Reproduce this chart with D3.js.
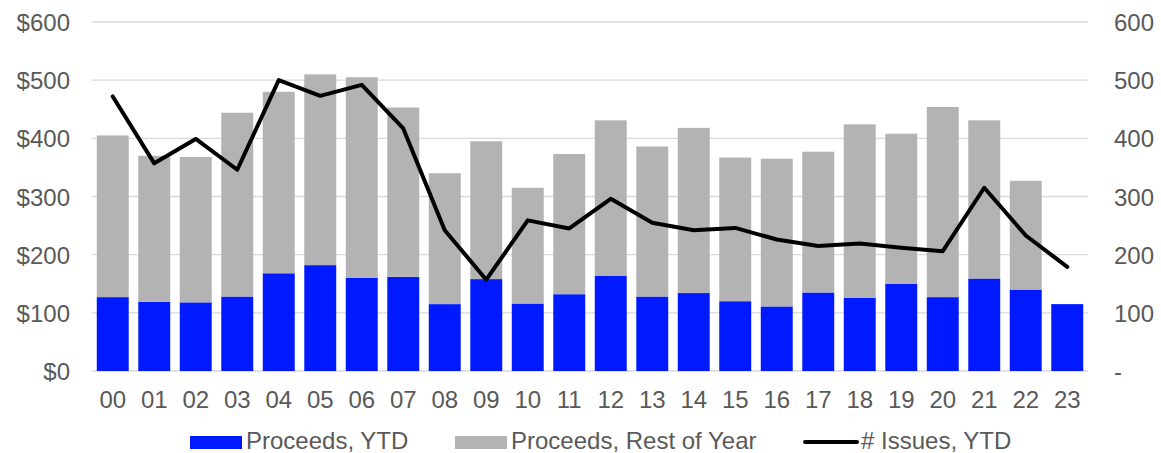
<!DOCTYPE html>
<html>
<head>
<meta charset="utf-8">
<script src="https://cdn.jsdelivr.net/npm/d3@7"></script>
<style>
  body { margin: 0; background: #fff; }
  .axes-font text { font-family: "Liberation Sans", Arial, sans-serif; font-size: 24px; fill: #595959; }
  .legend-font { font-family: "Liberation Sans", Arial, sans-serif; font-size: 24px; fill: #595959; }
</style>
</head>
<body>
<div id="vis1"></div>
<script>
const FRAME_HEIGHT = 453;
const FRAME_WIDTH = 1161;
const MARGINS = {left: 92, right: 73, top: 22, bottom: 82};

const VIS_HEIGHT = FRAME_HEIGHT - MARGINS.top - MARGINS.bottom;
const VIS_WIDTH = FRAME_WIDTH - MARGINS.left - MARGINS.right;

// data
const years = ["00","01","02","03","04","05","06","07","08","09","10","11",
               "12","13","14","15","16","17","18","19","20","21","22","23"];
const proceedsYTD = [127,119,118,128,168,182,160,162,115,158,116,132,
                     164,128,134,120,111,135,126,150,127,159,140,115];
const proceedsTotal = [405,370,368,444,480,510,505,453,340,395,315,373,
                       431,386,418,367,365,377,424,408,454,431,327,115];
const proceedsRest = proceedsTotal.map((t, i) => t - proceedsYTD[i]);
const issuesYTD = [472,357,399,346,500,473,492,417,242,157,259,245,
                   296,255,242,246,226,215,219,212,206,315,233,179];
const leftTicks = [0,100,200,300,400,500,600];

const FRAME1 = d3.select("#vis1")
                  .append("svg")
                  .attr("height", FRAME_HEIGHT)
                  .attr("width", FRAME_WIDTH);

const X_Scale = d3.scaleBand()
          .domain(years)
          .range([MARGINS.left, MARGINS.left + VIS_WIDTH])
          .paddingInner(0.23)
          .paddingOuter(0.115);
const Y_Scale = d3.scaleLinear()
          .domain([0, 600])
          .range([MARGINS.top + VIS_HEIGHT, MARGINS.top]);
const Y2_Scale = d3.scaleLinear()
          .domain([0, 600])
          .range([MARGINS.top + VIS_HEIGHT, MARGINS.top]);

// gridlines
FRAME1.append("g")
      .selectAll("line")
      .data(leftTicks)
      .enter().append("line")
      .attr("x1", MARGINS.left)
      .attr("x2", MARGINS.left + VIS_WIDTH)
      .attr("y1", d => Y_Scale(d))
      .attr("y2", d => Y_Scale(d))
      .attr("stroke", "#d9d9d9")
      .attr("stroke-width", 1.3);

// stacked bars
const rows = years.map((y, i) => ({year: y, ytd: proceedsYTD[i], rest: proceedsRest[i]}));
const stacked = d3.stack().keys(["ytd", "rest"])(rows);
const COLORS = {ytd: "#0019ff", rest: "#b3b3b3"};

FRAME1.append("g")
      .selectAll("g")
      .data(stacked)
      .enter().append("g")
      .attr("fill", d => COLORS[d.key])
      .selectAll("rect")
      .data(d => d)
      .enter().append("rect")
      .attr("x", d => X_Scale(d.data.year))
      .attr("y", d => Y_Scale(d[1]))
      .attr("width", X_Scale.bandwidth())
      .attr("height", d => Y_Scale(d[0]) - Y_Scale(d[1]));

// line
const line = d3.line()
      .x((d, i) => X_Scale(years[i]) + X_Scale.bandwidth() / 2)
      .y(d => Y2_Scale(d));

FRAME1.append("path")
      .datum(issuesYTD)
      .attr("d", line)
      .attr("fill", "none")
      .attr("stroke", "#000")
      .attr("stroke-width", 4)
      .attr("stroke-linejoin", "round")
      .attr("stroke-linecap", "round");

// axes
FRAME1.append("g")
      .attr("transform", "translate(" + (MARGINS.left - 19) + ",0)")
      .attr("class", "axes-font")
      .call(d3.axisLeft(Y_Scale).tickValues(leftTicks).tickSize(0).tickFormat(d => "$" + d))
      .call(g => g.select(".domain").remove())
      .selectAll("text").attr("dy", "0.36em");

FRAME1.append("g")
      .attr("transform", "translate(" + (MARGINS.left + VIS_WIDTH + 23) + ",0)")
      .attr("class", "axes-font")
      .call(d3.axisRight(Y2_Scale).tickValues(leftTicks).tickSize(0).tickFormat(d => d === 0 ? "-" : d))
      .call(g => g.select(".domain").remove())
      .selectAll("text").attr("dy", "0.36em");

FRAME1.append("g")
      .attr("transform", "translate(0," + (MARGINS.top + VIS_HEIGHT + 17) + ")")
      .attr("class", "axes-font")
      .call(d3.axisBottom(X_Scale).tickSize(0))
      .call(g => g.select(".domain").remove());

// legend
const legend = [
  {label: "Proceeds, YTD", x: 190, type: "rect", color: COLORS.ytd},
  {label: "Proceeds, Rest of Year", x: 455, type: "rect", color: COLORS.rest},
  {label: "# Issues, YTD", x: 805, type: "line", color: "#000"}
];
const LEG_Y = 442;
legend.forEach(l => {
  if (l.type === "rect") {
    FRAME1.append("rect")
          .attr("x", l.x).attr("y", LEG_Y - 6)
          .attr("width", 52).attr("height", 13)
          .attr("fill", l.color);
  } else {
    FRAME1.append("line")
          .attr("x1", l.x).attr("x2", l.x + 52)
          .attr("y1", LEG_Y).attr("y2", LEG_Y)
          .attr("stroke", l.color).attr("stroke-width", 4)
          .attr("stroke-linecap", "round");
  }
  FRAME1.append("text")
        .attr("class", "legend-font")
        .attr("x", l.x + 56)
        .attr("y", LEG_Y + 7)
        .text(l.label);
});
</script>
</body>
</html>
